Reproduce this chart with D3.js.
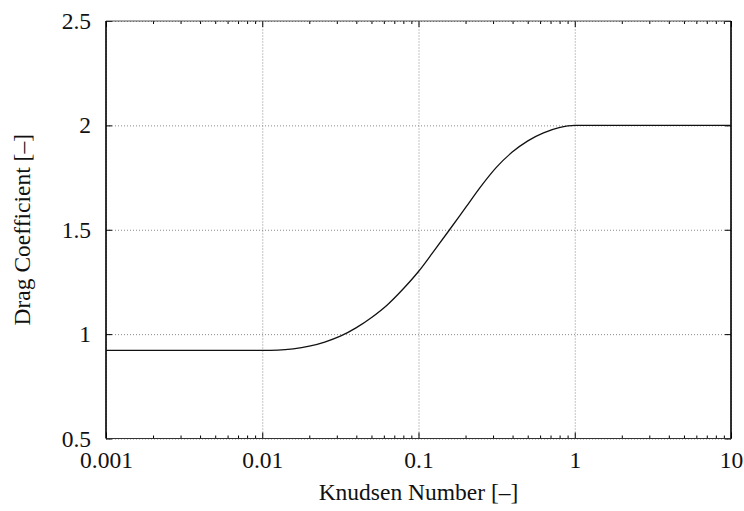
<!DOCTYPE html>
<html>
<head>
<meta charset="utf-8">
<script src="https://cdn.jsdelivr.net/npm/d3@7"></script>
<style>
  body { margin: 0; background: #fff; }
  .grid line { stroke: #888; stroke-width: 1; stroke-dasharray: 1,2; }
  .grid path { display: none; }
  .axis path { display: none; }
  .axis line { stroke: #000; stroke-width: 1; }
</style>
</head>
<body>
<div id="chart"></div>
<script>
// values
const knudsen = [0.001, 0.01, 0.0126, 0.0158, 0.02, 0.0251, 0.0316, 0.0398, 0.0501, 0.0631, 0.0794,
                 0.1, 0.126, 0.158, 0.2, 0.251, 0.316, 0.398, 0.501, 0.631, 0.794, 1, 10];
const dragCoef = [0.922, 0.922, 0.923, 0.929, 0.942, 0.962, 0.990, 1.030, 1.080, 1.140, 1.215,
                  1.300, 1.400, 1.500, 1.606, 1.708, 1.800, 1.872, 1.926, 1.964, 1.989, 2.0, 2.0];

const xTicks = [0.001, 0.01, 0.1, 1, 10];
const xTickLabels = ["0.001", "0.01", "0.1", "1", "10"];
const yTicks = [0.5, 1, 1.5, 2, 2.5];
const yTickLabels = ["0.5", "1", "1.5", "2", "2.5"];

const FONT = '"Liberation Serif", "Times New Roman", "DejaVu Serif", serif';
const FS = "23.5px";

function dragChart() {
    const W = 744, H = 511;
    const margin = {top: 21, right: 13, bottom: 72.5, left: 106};
    const width = W - margin.left - margin.right;
    const height = H - margin.top - margin.bottom;

    const svg = d3.select("#chart")
        .append("svg")
        .attr("width", W)
        .attr("height", H)
        .append("g")
        .attr("transform", `translate(${margin.left}, ${margin.top})`);

    const xScale = d3.scaleLog().domain([0.001, 10]).range([0, width]);
    const yScale = d3.scaleLinear().domain([0.5, 2.5]).range([height, 0]);

    // minor ticks at 2..9 of every decade
    const minor = [];
    for (let d = 0.001; d < 10; d *= 10) {
        for (let k = 2; k <= 9; k++) minor.push(+(d * k).toPrecision(3));
    }

    // grid lines (dotted)
    svg.append("g").attr("class", "grid")
        .attr("transform", `translate(0, ${height})`)
        .call(d3.axisBottom(xScale).tickValues(xTicks).tickSize(-height).tickFormat(""));
    svg.append("g").attr("class", "grid")
        .call(d3.axisLeft(yScale).tickValues(yTicks).tickSize(-width).tickFormat(""));

    // bottom axis, ticks pointing inward
    svg.append("g").attr("class", "axis")
        .attr("transform", `translate(0, ${height})`)
        .call(d3.axisBottom(xScale).tickValues(xTicks).tickSize(-6).tickPadding(13)
            .tickFormat((d, i) => xTickLabels[i]))
        .selectAll("text").style("font-size", FS).style("font-family", FONT).attr("fill", "#111");
    svg.append("g").attr("class", "axis")
        .attr("transform", `translate(0, ${height})`)
        .call(d3.axisBottom(xScale).tickValues(minor).tickSize(-3).tickFormat(""));

    // top axis mirror
    svg.append("g").attr("class", "axis")
        .call(d3.axisTop(xScale).tickValues(xTicks).tickSize(-6).tickFormat(""));
    svg.append("g").attr("class", "axis")
        .call(d3.axisTop(xScale).tickValues(minor).tickSize(-3).tickFormat(""));

    // left and right axes
    svg.append("g").attr("class", "axis")
        .call(d3.axisLeft(yScale).tickValues(yTicks).tickSize(-6).tickPadding(15)
            .tickFormat((d, i) => yTickLabels[i]))
        .selectAll("text").style("font-size", FS).style("font-family", FONT).attr("fill", "#111");
    svg.append("g").attr("class", "axis")
        .attr("transform", `translate(${width}, 0)`)
        .call(d3.axisRight(yScale).tickValues(yTicks).tickSize(-6).tickFormat(""));

    // frame
    svg.append("line").attr("x1", 0).attr("x2", width).attr("y1", 0).attr("y2", 0)
        .attr("stroke", "#555").attr("stroke-width", 1);
    svg.append("line").attr("x1", 0).attr("x2", width).attr("y1", height).attr("y2", height)
        .attr("stroke", "#333").attr("stroke-width", 1.2);
    svg.append("line").attr("x1", 0).attr("x2", 0).attr("y1", 0).attr("y2", height)
        .attr("stroke", "#000").attr("stroke-width", 1.6);
    svg.append("line").attr("x1", width).attr("x2", width).attr("y1", 0).attr("y2", height)
        .attr("stroke", "#000").attr("stroke-width", 1.6);

    // the curve
    const data = knudsen.map((k, i) => ({kn: k, cd: dragCoef[i]}));
    const line = d3.line()
        .x(d => xScale(d.kn))
        .y(d => yScale(d.cd))
        .curve(d3.curveMonotoneX);
    svg.append("path")
        .datum(data)
        .attr("d", line)
        .attr("fill", "none")
        .attr("stroke", "#111")
        .attr("stroke-width", 1.3);

    // axis labels
    svg.append("text")
        .style("text-anchor", "middle")
        .style("font-size", FS).style("font-family", FONT)
        .attr("fill", "#111")
        .attr("x", width / 2)
        .attr("y", height + 61)
        .text("Knudsen Number [–]");
    svg.append("text")
        .style("text-anchor", "middle")
        .style("font-size", FS).style("font-family", FONT)
        .attr("fill", "#111")
        .attr("transform", `translate(${-76}, ${height / 2}) rotate(-90)`)
        .text("Drag Coefficient [–]");
}

dragChart();
</script>
</body>
</html>
